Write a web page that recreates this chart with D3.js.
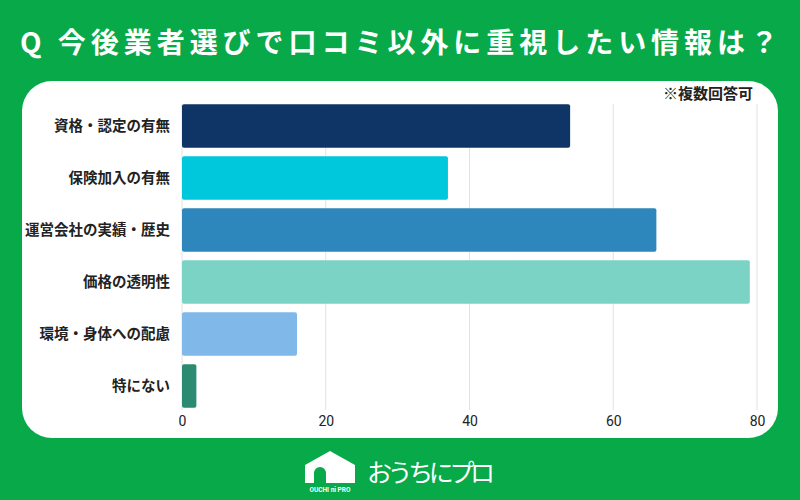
<!DOCTYPE html>
<html>
<head>
<meta charset="utf-8">
<script src="https://cdn.jsdelivr.net/npm/d3@7"></script>
<style>
  body { margin: 0; background: #07a949; }
  svg { display: block; }
</style>
</head>
<body>
<figure id="chart" style="margin:0"></figure>
<script>
const categories = ['資格・認定の有無', '保険加入の有無', '運営会社の実績・歴史', '価格の透明性', '環境・身体への配慮', '特にない'];
const values = [54, 37, 66, 79, 16, 2];
const barColors = ['#0f3566', '#00c8dc', '#2e87bc', '#7bd3c5', '#80b8ea', '#2a8a72'];
const xTicks = [0, 20, 40, 60, 80];
const title = 'Q 今後業者選びで口コミ以外に重視したい情報は？';
const note = '※複数回答可';
const brand = 'おうちにプロ';

const width = 800;
const height = 500;
const margin = { top: 104, right: 43, bottom: 90, left: 182 };

const svg = d3.select('figure#chart')
  .append('svg')
  .attr('width', width)
  .attr('height', height)
  .attr('font-family', '"Noto Sans CJK JP", "Noto Sans", sans-serif');

svg.append('rect')
  .attr('width', width)
  .attr('height', height)
  .attr('fill', '#07a949');

svg.append('text')
  .attr('x', 20)
  .attr('y', 53)
  .attr('fill', '#fff')
  .attr('font-size', 28)
  .attr('font-weight', 'bold')
  .attr('textLength', 758)
  .attr('lengthAdjust', 'spacing')
  .text(title);

// white panel
svg.append('rect')
  .attr('x', 22)
  .attr('y', 81)
  .attr('width', 756)
  .attr('height', 357)
  .attr('rx', 30)
  .attr('fill', '#fff');

const x = d3.scaleLinear()
  .domain([0, 80])
  .range([margin.left, width - margin.right]);

const y = d3.scaleBand()
  .domain(categories)
  .range([margin.top - 4, height - margin.bottom + 2])
  .paddingInner(0.16)
  .paddingOuter(0.08);

// grid
svg.append('g')
  .selectAll('line')
  .data(xTicks)
  .join('line')
  .attr('x1', d => x(d))
  .attr('x2', d => x(d))
  .attr('y1', margin.top)
  .attr('y2', height - margin.bottom)
  .attr('stroke', '#e2e2e2')
  .attr('stroke-width', 1);

const xAxis = g => g
  .attr('transform', `translate(0,${height - margin.bottom})`)
  .call(d3.axisBottom(x).tickValues(xTicks).tickSize(0).tickPadding(6))
  .call(g => g.select('.domain').remove())
  .call(g => g.selectAll('text')
    .attr('fill', '#222')
    .attr('font-size', 14)
    .attr('font-family', '"Liberation Sans Narrow", Roboto, sans-serif'));

svg.append('g').call(xAxis);

// bars
svg.append('g')
  .selectAll('rect')
  .data(categories)
  .join('rect')
  .attr('x', x(0))
  .attr('y', d => y(d))
  .attr('width', (d, i) => x(values[i]) - x(0))
  .attr('height', y.bandwidth())
  .attr('rx', 2)
  .attr('fill', (d, i) => barColors[i]);

// category labels
svg.append('g')
  .selectAll('text')
  .data(categories)
  .join('text')
  .attr('x', 170)
  .attr('y', d => y(d) + y.bandwidth() / 2)
  .attr('dy', '0.35em')
  .attr('text-anchor', 'end')
  .attr('font-size', 14.5)
  .attr('font-weight', 'bold')
  .attr('fill', '#222')
  .text(d => d);

svg.append('text')
  .attr('x', 753)
  .attr('y', 99)
  .attr('text-anchor', 'end')
  .attr('font-size', 15)
  .attr('font-weight', 'bold')
  .attr('fill', '#222')
  .text(note);

// logo
const logo = svg.append('g').attr('transform', 'translate(305,449)');
logo.append('path')
  .attr('d', 'M0,16 L25,2 L50,16 L50,34 L0,34 Z M9,34 L9,24 A6,6 0 0 1 21,24 L21,34 Z')
  .attr('fill', '#fff')
  .attr('fill-rule', 'evenodd');
logo.append('text')
  .attr('x', 25)
  .attr('y', 43)
  .attr('text-anchor', 'middle')
  .attr('font-size', 6.5)
  .attr('font-weight', 'bold')
  .attr('font-family', 'Roboto, sans-serif')
  .attr('fill', '#fff')
  .text('OUCHI ni PRO');
svg.append('text')
  .attr('x', 367)
  .attr('y', 482)
  .attr('font-size', 25)
  .attr('fill', '#fff')
  .attr('textLength', 128)
  .attr('lengthAdjust', 'spacing')
  .text(brand);
</script>
</body>
</html>
